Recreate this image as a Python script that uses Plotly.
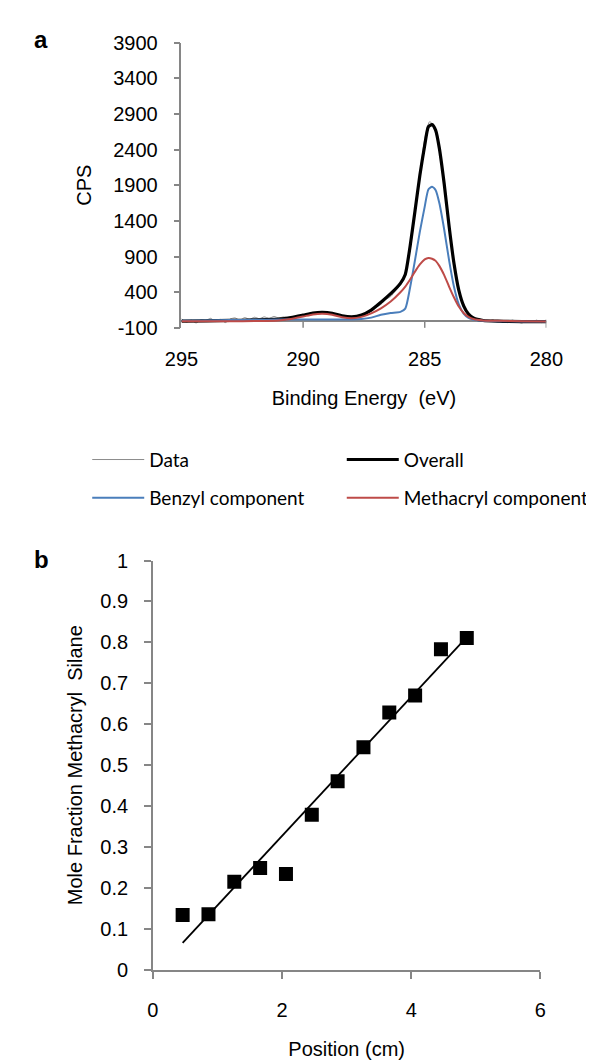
import plotly.graph_objects as go

W, H = 594, 1061

# ---------------- Panel a : XPS C1s spectrum ----------------
energy_fit = [295, 294, 293, 292, 291, 290.5, 290, 289.6, 289.2, 288.8, 288.4, 288.0,
              287.6, 287.2, 286.8, 286.4, 286.0, 285.8, 285.6, 285.4, 285.2, 285.0,
              284.85, 284.7, 284.55, 284.4, 284.2, 284.0, 283.8, 283.6, 283.4, 283.2,
              283.0, 282.6, 282, 281, 280]
overall = [-5, 0, 5, 12, 23, 45, 80, 110, 120, 105, 70, 55,
           80, 150, 260, 380, 525, 650, 1050, 1540, 2040, 2460,
           2720, 2750, 2670, 2420, 1920, 1330, 810, 430, 210, 95,
           40, 5, -5, -10, -10]
benzyl = [0, 5, 10, 15, 18, 20, 20, 20, 20, 20, 20, 20,
          25, 45, 85, 110, 125, 170, 470, 850, 1250, 1600,
          1840, 1880, 1830, 1650, 1280, 850, 480, 230, 100, 40,
          15, 0, -5, -8, -10]
methacryl = [-5, -5, -5, -3, 5, 25, 60, 90, 100, 85, 50, 35,
             55, 105, 175, 270, 400, 480, 580, 690, 790, 860,
             880, 870, 840, 770, 640, 480, 330, 200, 110, 55,
             25, 5, 0, -5, -8]

energy_data = [295.0, 294.8, 294.6, 294.4, 294.2, 294.0, 293.8, 293.6, 293.4, 293.2,
               293.0, 292.8, 292.6, 292.4, 292.2, 292.0, 291.8, 291.6, 291.4, 291.2,
               291.0, 290.8, 290.6, 290.4, 290.2, 290.0, 289.8, 289.6, 289.4, 289.2,
               289.0, 288.8, 288.6, 288.4, 288.2, 288.0, 287.8, 287.6, 287.4, 287.2,
               287.0, 286.8, 286.6, 286.4, 286.2, 286.0, 285.8, 285.6, 285.4, 285.2,
               285.0, 284.8, 284.6, 284.4, 284.2, 284.0, 283.8, 283.6, 283.4, 283.2,
               283.0, 282.8, 282.6, 282.4, 282.2, 282.0, 281.8, 281.6, 281.4, 281.2,
               281.0, 280.8, 280.6, 280.4, 280.2, 280.0]
cps_data = [30, -20, 10, -30, 15, 5, 35, -10, 20, -25,
            25, 40, 10, 45, 20, 50, 30, 55, 35, 60,
            40, 55, 45, 60, 50, 70, 85, 100, 95, 115,
            100, 90, 70, 55, 45, 55, 60, 85, 100, 150,
            190, 230, 300, 340, 420, 500, 640, 1000, 1500, 2050,
            2550, 2790, 2720, 2420, 1900, 1340, 800, 420, 200, 80,
            40, 10, 20, -10, 15, -20, 5, -25, 10, -15,
            -30, 5, -20, 10, -25, 15]

a_xticks = [295, 290, 285, 280]
a_yticks = [-100, 400, 900, 1400, 1900, 2400, 2900, 3400, 3900]

# ---------------- Panel b : mole fraction vs position ----------------
position = [0.46, 0.86, 1.26, 1.66, 2.06, 2.46, 2.86, 3.26, 3.66, 4.06, 4.46, 4.86]
mole_fraction = [0.134, 0.136, 0.215, 0.249, 0.234, 0.379, 0.461, 0.544, 0.629, 0.670, 0.783, 0.811]
trend_x = [0.46, 4.86]
trend_y = [0.066, 0.813]
b_xticks = [0, 2, 4, 6]
b_yticks = [0, 0.1, 0.2, 0.3, 0.4, 0.5, 0.6, 0.7, 0.8, 0.9, 1]
b_yticklabels = ["0", "0.1", "0.2", "0.3", "0.4", "0.5", "0.6", "0.7", "0.8", "0.9", "1"]

AXIS = "#868686"
FONT = "Liberation Sans, Arial, sans-serif"
LEGFONT = "Lato, Open Sans, sans-serif"

fig = go.Figure()
fig.add_trace(go.Scatter(x=energy_data, y=cps_data, mode="lines", name="Data",
                         line=dict(color="#8c8c8c", width=1, shape="spline", smoothing=0.6),
                         xaxis="x", yaxis="y", legend="legend"))
fig.add_trace(go.Scatter(x=energy_fit, y=overall, mode="lines", name="Overall",
                         line=dict(color="#000000", width=3.2, shape="spline", smoothing=0.6),
                         xaxis="x", yaxis="y", legend="legend2"))
fig.add_trace(go.Scatter(x=energy_fit, y=benzyl, mode="lines", name="Benzyl component",
                         line=dict(color="#4a7ebb", width=2, shape="spline", smoothing=0.6),
                         xaxis="x", yaxis="y", legend="legend3"))
fig.add_trace(go.Scatter(x=energy_fit, y=methacryl, mode="lines", name="Methacryl component",
                         line=dict(color="#be4b48", width=2, shape="spline", smoothing=0.6),
                         xaxis="x", yaxis="y", legend="legend4"))

fig.add_trace(go.Scatter(x=trend_x, y=trend_y, mode="lines", showlegend=False,
                         line=dict(color="#000000", width=1.8), xaxis="x2", yaxis="y2"))
fig.add_trace(go.Scatter(x=position, y=mole_fraction, mode="markers", showlegend=False,
                         marker=dict(symbol="square", size=14, color="#000000"),
                         xaxis="x2", yaxis="y2"))

tickfont = dict(family=FONT, size=20, color="#000")
titlefont = dict(family=FONT, size=20, color="#000")

shapes = []
for v in a_xticks[1:]:
    shapes.append(dict(type="line", xref="x", yref="y", x0=v, x1=v,
                       ysizemode="pixel", yanchor=0, y0=-7, y1=0,
                       line=dict(color=AXIS, width=1.5)))


def leg(xpx, ypx):
    return dict(orientation="v", x=xpx / W, xanchor="left", y=1 - ypx / H, yanchor="middle",
                font=dict(family=LEGFONT, size=19, color="#000"),
                bgcolor="rgba(0,0,0,0)", itemwidth=52, borderwidth=0)


fig.update_layout(
    width=W, height=H, margin=dict(l=0, r=0, t=0, b=0),
    paper_bgcolor="white", plot_bgcolor="white",
    xaxis=dict(domain=[166 / W, 553 / W], range=[295, 280], anchor="y",
               tickvals=a_xticks, ticktext=[str(v) for v in a_xticks],
               showline=False, ticks="", showgrid=False, zeroline=False,
               tickfont=tickfont, ticklabelstandoff=17,
               title=dict(text="Binding Energy  (eV)", font=titlefont, standoff=22)),
    yaxis=dict(domain=[1 - 315.5 / H, 1 - 24 / H], range=[-100, 3900], anchor="x",
               tickvals=a_yticks, ticktext=[str(v) for v in a_yticks],
               showline=True, linecolor=AXIS, linewidth=1.5,
               ticks="outside", ticklen=6, tickcolor=AXIS, tickwidth=1.5,
               showgrid=False, zeroline=True, zerolinecolor=AXIS, zerolinewidth=1.5,
               tickfont=tickfont, ticklabelstandoff=12,
               title=dict(text="CPS", font=titlefont, standoff=16)),
    xaxis2=dict(domain=[135.7 / W, 546.7 / W], range=[0, 6], anchor="y2",
                tickvals=b_xticks, showline=True, linecolor=AXIS, linewidth=1.5,
                ticks="outside", ticklen=7, tickcolor=AXIS, tickwidth=1.5,
                showgrid=False, zeroline=False, tickfont=tickfont, ticklabelstandoff=14,
                title=dict(text="Position (cm)", font=titlefont, standoff=22)),
    yaxis2=dict(domain=[1 - 971 / H, 1 - 553 / H], range=[0, 1], anchor="x2",
                tickvals=b_yticks, ticktext=b_yticklabels,
                showline=True, linecolor=AXIS, linewidth=1.5,
                ticks="outside", ticklen=7, tickcolor=AXIS, tickwidth=1.5,
                showgrid=False, zeroline=False, tickfont=tickfont, ticklabelstandoff=12,
                title=dict(text="Mole Fraction Methacryl  Silane", font=titlefont, standoff=12)),
    legend=leg(66, 450),
    legend2=leg(336, 450),
    legend3=leg(66, 489),
    legend4=leg(336, 489),
    shapes=shapes,
    annotations=[
        dict(text="<b>a</b>", xref="paper", yref="paper", x=17 / W, y=1 - 21 / H,
             xanchor="center", yanchor="middle", showarrow=False,
             font=dict(family=FONT, size=24, color="#000")),
        dict(text="<b>b</b>", xref="paper", yref="paper", x=17 / W, y=1 - 552 / H,
             xanchor="center", yanchor="middle", showarrow=False,
             font=dict(family=FONT, size=24, color="#000")),
    ],
)

fig.write_html("out.html")
